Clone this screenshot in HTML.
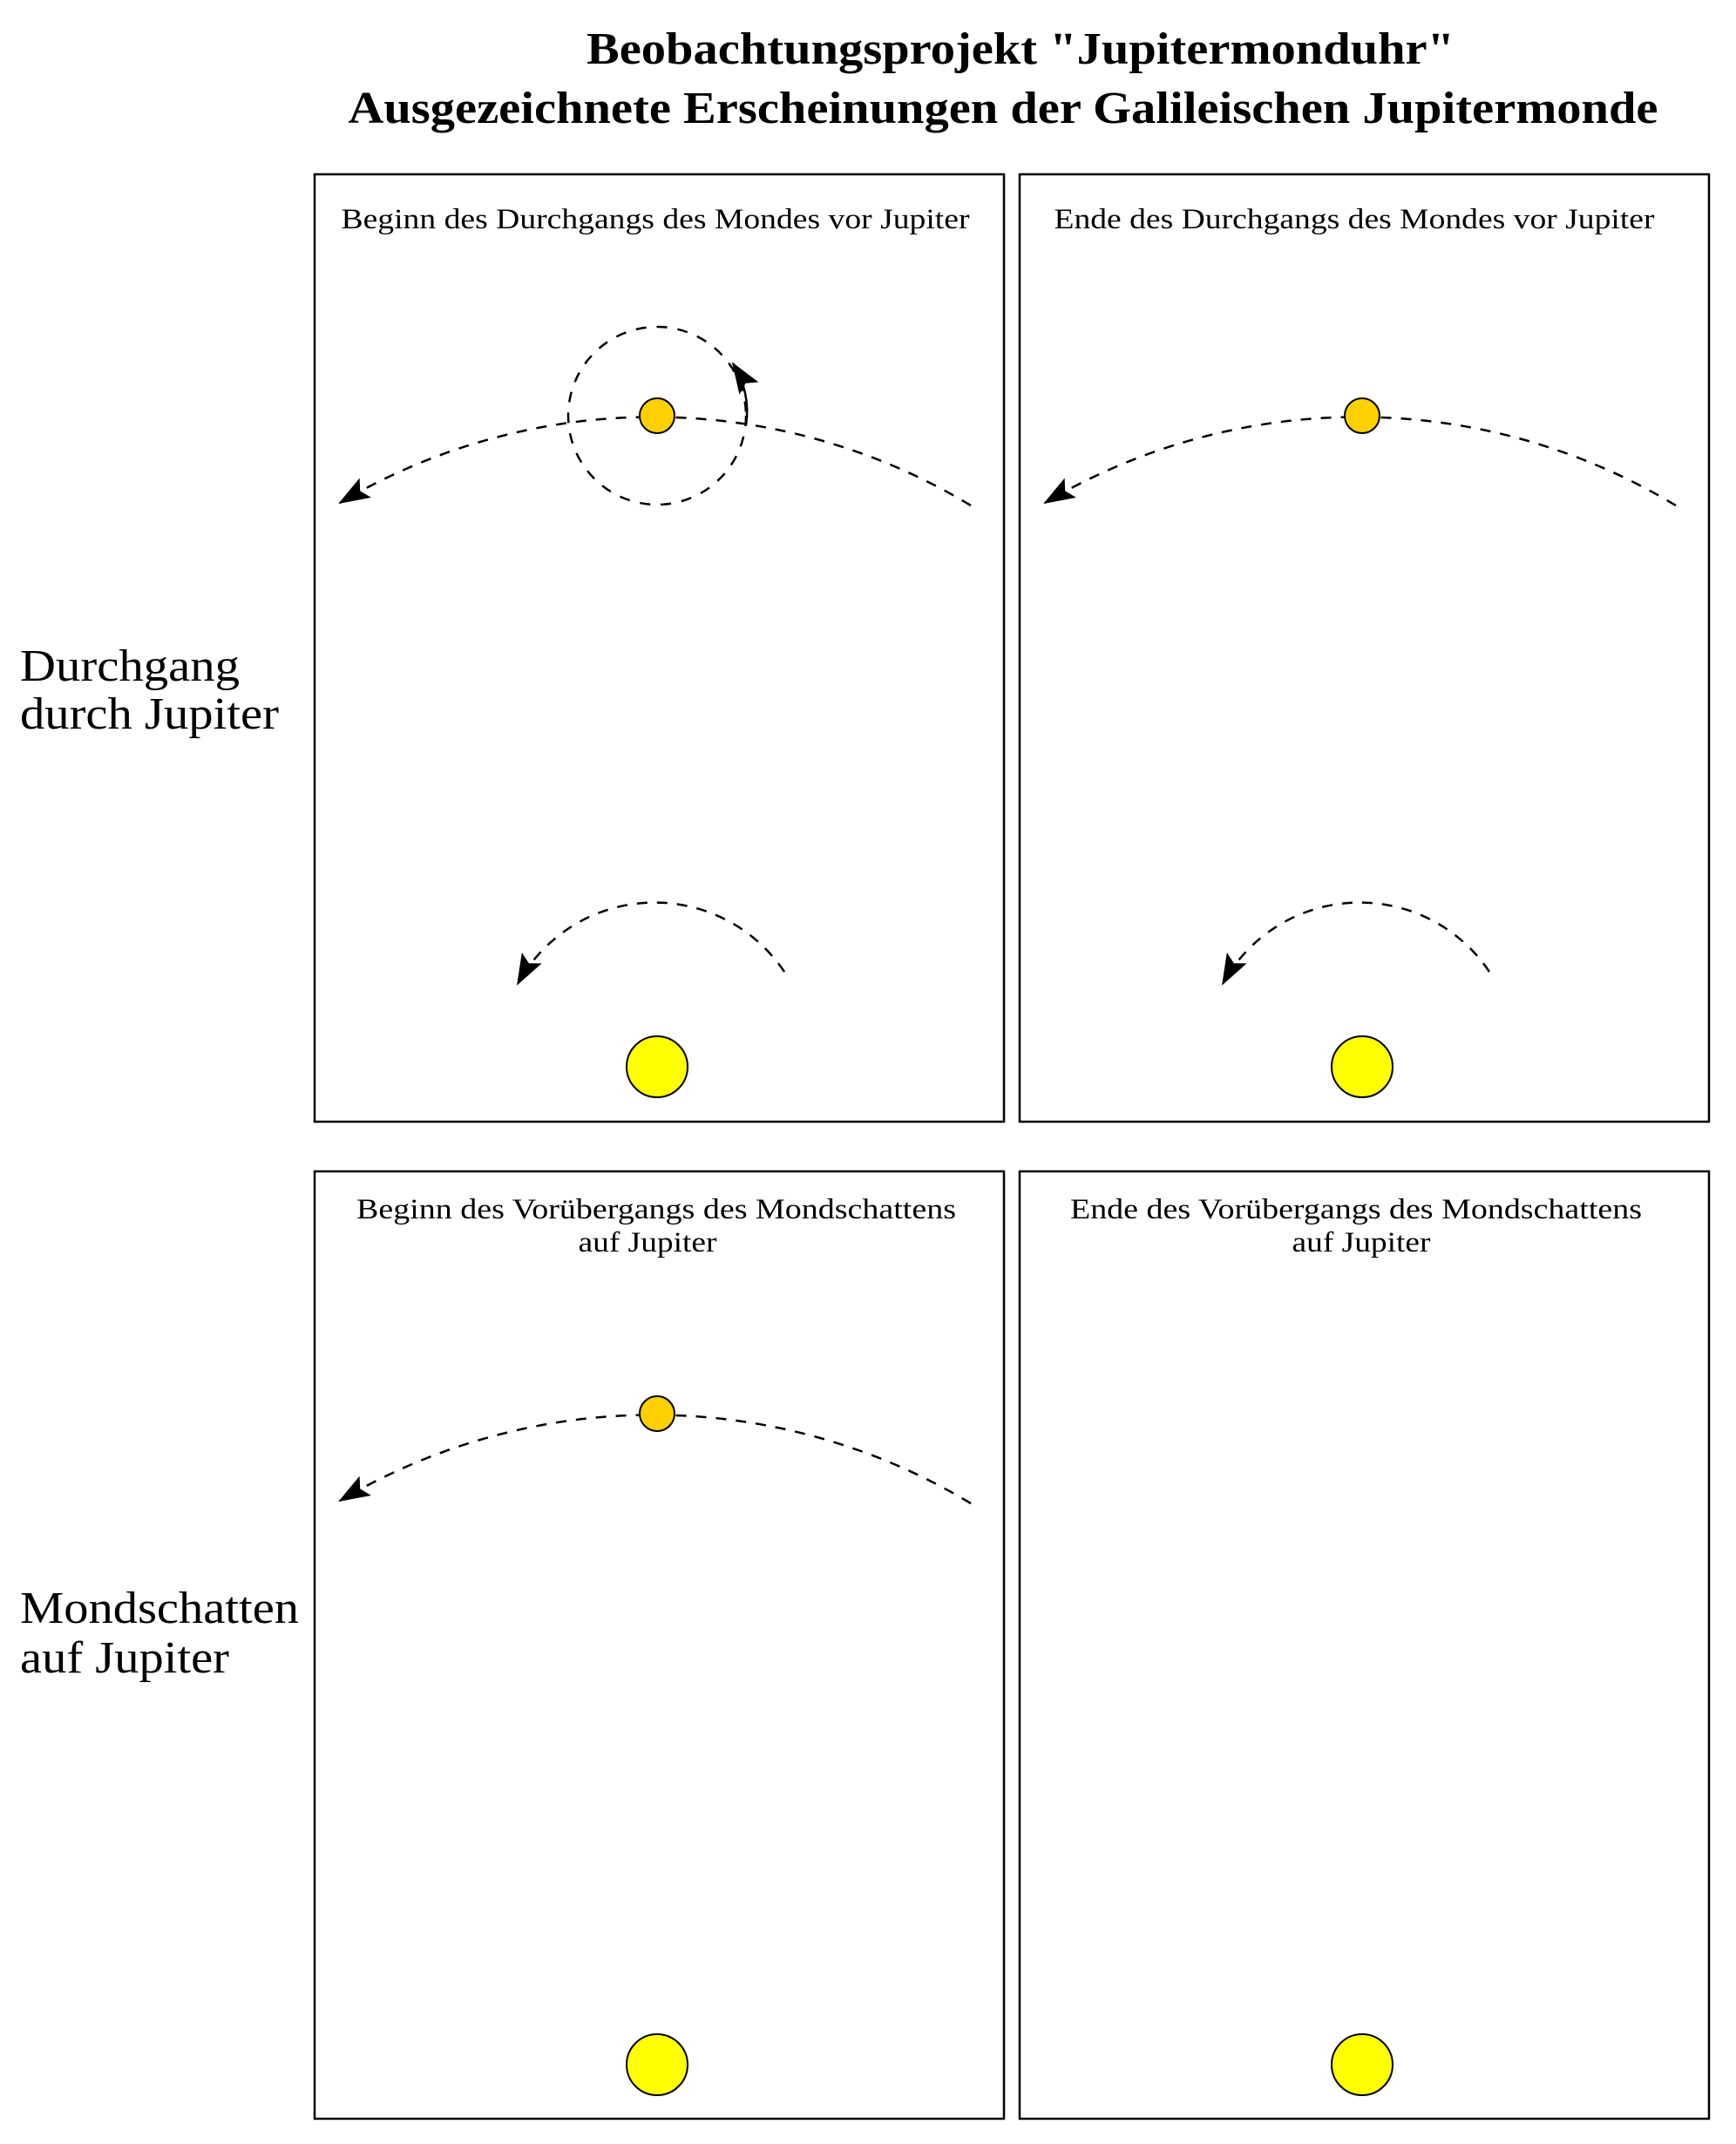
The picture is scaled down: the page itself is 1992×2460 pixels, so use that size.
<!DOCTYPE html>
<html><head><meta charset="utf-8"><style>
html,body{margin:0;padding:0;background:#fff;}
svg{display:block;}
text{font-family:"Liberation Serif",serif;fill:#000;}
</style></head><body>
<svg width="1992" height="2460" viewBox="0 0 1992 2460" xmlns="http://www.w3.org/2000/svg">
<defs>
<marker id="ah" markerUnits="userSpaceOnUse" markerWidth="40" markerHeight="30" refX="34" refY="13" orient="auto">
<path d="M0,0 L36,13 L0,26 L7,13 Z" fill="#000" stroke="none"/>
</marker>
</defs>
<text x="1171" y="73" font-size="52" font-weight="bold" text-anchor="middle" textLength="996" lengthAdjust="spacingAndGlyphs">Beobachtungsprojekt "Jupitermonduhr"</text>
<text x="1151" y="141" font-size="52" font-weight="bold" text-anchor="middle" textLength="1503" lengthAdjust="spacingAndGlyphs">Ausgezeichnete Erscheinungen der Galileischen Jupitermonde</text>

<text x="23" y="781" font-size="52" textLength="252" lengthAdjust="spacingAndGlyphs">Durchgang</text>
<text x="23" y="836" font-size="52" textLength="297" lengthAdjust="spacingAndGlyphs">durch Jupiter</text>
<text x="23" y="1862" font-size="52" textLength="320" lengthAdjust="spacingAndGlyphs">Mondschatten</text>
<text x="23" y="1919" font-size="52" textLength="240" lengthAdjust="spacingAndGlyphs">auf Jupiter</text>

<g fill="none" stroke="#000" stroke-width="2.5">
<rect x="361" y="200" width="791" height="1087"/>
<rect x="1170" y="200" width="791" height="1087"/>
<rect x="361" y="1344" width="791" height="1087"/>
<rect x="1170" y="1344" width="791" height="1087"/>
</g>

<text x="752" y="262" font-size="33" text-anchor="middle" textLength="721" lengthAdjust="spacingAndGlyphs">Beginn des Durchgangs des Mondes vor Jupiter</text>
<text x="1554" y="262" font-size="33" text-anchor="middle" textLength="689" lengthAdjust="spacingAndGlyphs">Ende des Durchgangs des Mondes vor Jupiter</text>
<text x="753" y="1398" font-size="33" text-anchor="middle" textLength="688" lengthAdjust="spacingAndGlyphs">Beginn des Vorübergangs des Mondschattens</text>
<text x="743" y="1436" font-size="33" text-anchor="middle" textLength="159" lengthAdjust="spacingAndGlyphs">auf Jupiter</text>
<text x="1556" y="1398" font-size="33" text-anchor="middle" textLength="656" lengthAdjust="spacingAndGlyphs">Ende des Vorübergangs des Mondschattens</text>
<text x="1562" y="1436" font-size="33" text-anchor="middle" textLength="159" lengthAdjust="spacingAndGlyphs">auf Jupiter</text>

<!-- Panel 1 -->
<g>
<circle cx="754" cy="477" r="102" fill="none" stroke="#000" stroke-width="2.5" stroke-dasharray="12,12"/>
<path d="M1114,580 A705,705 0 0 0 390,577" fill="none" stroke="#000" stroke-width="2.5" stroke-dasharray="12,11" marker-end="url(#ah)"/>
<path d="M856,488 A102,102 0 0 0 841,417" fill="none" stroke="#000" stroke-width="2.5" marker-end="url(#ah)"/>
<circle cx="754" cy="477" r="20" fill="#FFD000" stroke="#000" stroke-width="2"/>
<path d="M900,1115 A179,179 0 0 0 594,1129" fill="none" stroke="#000" stroke-width="2.5" stroke-dasharray="12,11" marker-end="url(#ah)"/>
<circle cx="754" cy="1224" r="35" fill="#FFFF00" stroke="#000" stroke-width="2"/>
</g>

<!-- Panel 2 -->
<g transform="translate(809,0)">
<path d="M1114,580 A705,705 0 0 0 390,577" fill="none" stroke="#000" stroke-width="2.5" stroke-dasharray="12,11" marker-end="url(#ah)"/>
<circle cx="754" cy="477" r="20" fill="#FFD000" stroke="#000" stroke-width="2"/>
<path d="M900,1115 A179,179 0 0 0 594,1129" fill="none" stroke="#000" stroke-width="2.5" stroke-dasharray="12,11" marker-end="url(#ah)"/>
<circle cx="754" cy="1224" r="35" fill="#FFFF00" stroke="#000" stroke-width="2"/>
</g>

<!-- Panel 3 -->
<g transform="translate(0,1145)">
<path d="M1114,580 A705,705 0 0 0 390,577" fill="none" stroke="#000" stroke-width="2.5" stroke-dasharray="12,11" marker-end="url(#ah)"/>
<circle cx="754" cy="477" r="20" fill="#FFD000" stroke="#000" stroke-width="2"/>
<circle cx="754" cy="1224" r="35" fill="#FFFF00" stroke="#000" stroke-width="2"/>
</g>

<!-- Panel 4 -->
<g transform="translate(809,1145)">
<circle cx="754" cy="1224" r="35" fill="#FFFF00" stroke="#000" stroke-width="2"/>
</g>
</svg>
</body></html>
